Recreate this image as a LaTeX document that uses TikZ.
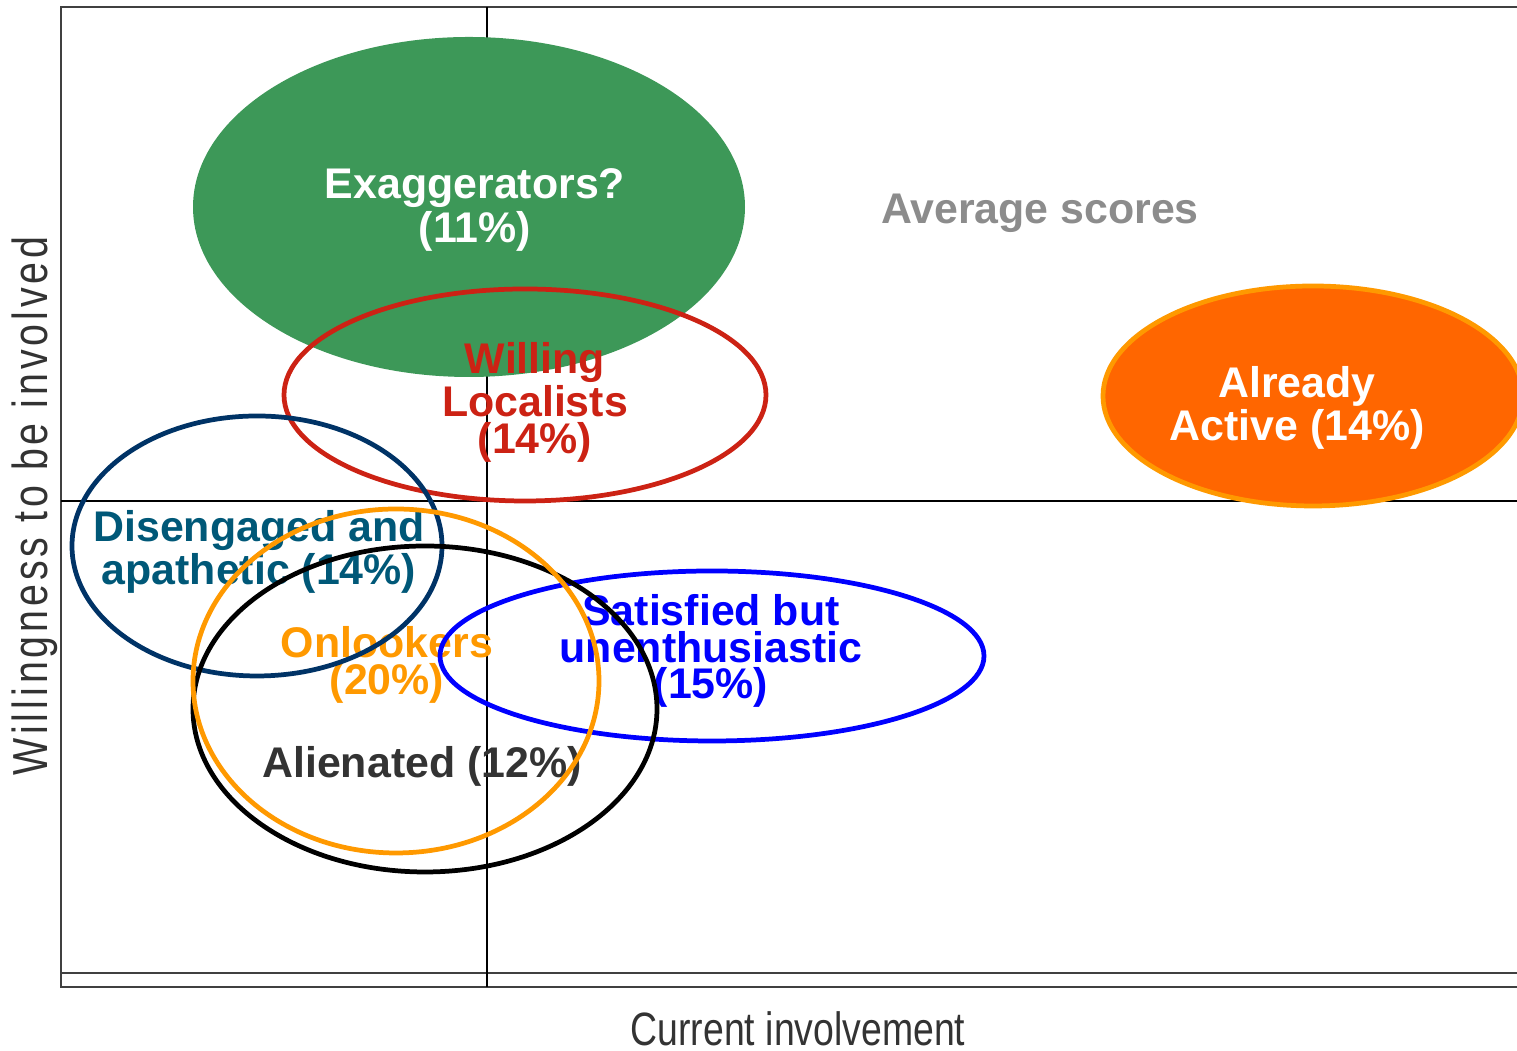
\documentclass[tikz,border=0pt]{standalone}
\usepackage{fontspec}
\setmainfont{Liberation Sans}
\newfontfamily\narrowfont[FakeStretch=0.8]{Liberation Sans}
\newfontfamily\spacedfont[FakeStretch=0.8,LetterSpace=8]{Liberation Sans}
\usetikzlibrary{calc,positioning}
\definecolor{grpgreen}{RGB}{61,152,88}
\definecolor{grpred}{RGB}{204,34,20}
\definecolor{grpnavy}{RGB}{0,51,102}
\definecolor{grpteal}{RGB}{0,88,120}
\definecolor{grporange}{RGB}{255,153,0}
\definecolor{grpactive}{RGB}{255,102,0}
\definecolor{grpblue}{RGB}{0,0,255}
\definecolor{avggray}{RGB}{140,140,140}
\definecolor{txtdark}{RGB}{51,51,51}

\begin{document}
\begin{tikzpicture} [{lbl/.style={font=\bfseries\fontsize{12.2}{10.3}\selectfont,align=center,inner sep=0pt}},{ring/.style={line width=1.35pt}},{frame/.style={color=black!75,line width=0.7pt}},{linest/.style={color=black,line width=0.35pt}}]
	\useasboundingbox (0,0) rectangle (15.17,10.51);
	%%coordinates of the plot frame
	\coordinate (TL) at (0.61,10.44);
	\coordinate (TR) at (15.17,10.44);
	\coordinate (BL) at (0.61,0.64);
	\coordinate (BR) at (15.17,0.64);
	\coordinate (IL) at (0.61,0.78);
	\coordinate (IR) at (15.17,0.78);
	%%average score lines
	\coordinate (XT) at (4.87,10.44);
	\coordinate (XB) at (4.87,0.64);
	\coordinate (YL) at (0.61,5.50);
	\coordinate (YR) at (15.17,5.50);
	%%frame
	\draw [frame] (TR) -- (TL) -- (BL) -- (BR);
	\draw [frame] (IL) -- (IR);
	\draw [linest] (XT) -- (XB);
	\draw [linest] (YL) -- (YR);
	
	%%filled groups
	\fill [grpgreen] (4.69,8.44) ellipse [x radius=2.76, y radius=1.70];
	\node [lbl, text=white] (exag) at (4.75,8.41) {Exaggerators?\\(11\%)};
	\draw [ring, draw=grporange, fill=grpactive] (13.13,6.55) ellipse [x radius=2.10, y radius=1.10];
	\node [lbl, text=white] (active) at (12.97,6.43) {Already\\Active (14\%)};
	\node [lbl, text=avggray] (avg) at (10.40,8.38) {Average scores};
	
	%%labels of the outlined groups
	\node [lbl, text=grpred] (local) at (5.35,6.49) {Willing\\Localists\\(14\%)};
	\node [lbl, text=grpteal] (diseng) at (2.59,4.99) {Disengaged and\\apathetic (14\%)};
	\node [lbl, text=grporange] (onlook) at (3.87,3.86) {Onlookers\\(20\%)};
	\node [lbl, text=grpblue] (satis) at (7.11,4.00) {Satisfied but\\unenthusiastic\\(15\%)};
	\node [lbl, text=txtdark] (alien) at (4.22,2.85) {Alienated (12\%)};
	
	%%outlined groups
	\draw [ring, grpred] (5.25,6.56) ellipse [x radius=2.41, y radius=1.06];
	\draw [ring, grpnavy] (2.57,5.05) ellipse [x radius=1.85, y radius=1.30];
	\draw [ring, grpblue] (7.12,3.95) ellipse [x radius=2.72, y radius=0.85];
	\draw [ring, black] (4.25,3.42) ellipse [x radius=2.32, y radius=1.63];
	\draw [ring, grporange] (3.96,3.70) ellipse [x radius=2.03, y radius=1.72];
	
	%%axis titles
	\node [font=\narrowfont\fontsize{13.3}{13.3}\selectfont, text=txtdark, inner sep=0pt] (xlab) at (7.98,0.22) {Current involvement};
	\node [rotate=90, font=\spacedfont\fontsize{14}{14}\selectfont, text=txtdark, inner sep=0pt] (ylab) at (0.35,5.45) {Willingness to be involved};
\end{tikzpicture}
\end{document}
